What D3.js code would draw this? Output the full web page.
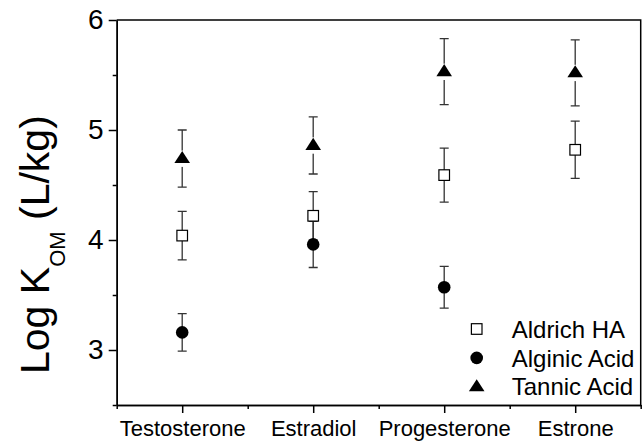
<!DOCTYPE html>
<html>
<head>
<meta charset="utf-8">
<script src="https://cdn.jsdelivr.net/npm/d3@7"></script>
<style>
  body { margin: 0; background: #fff; }
  svg { font-family: "Liberation Sans", Arial, sans-serif; }
</style>
</head>
<body>
<div id="chart"></div>
<script>
const categories = ['Testosterone', 'Estradiol', 'Progesterone', 'Estrone'];
const yMajorTicks = [3, 4, 5, 6];
const yMinorTicks = [2.5, 3.5, 4.5, 5.5];

const aldrichHA = [4.04, 4.22, 4.59, 4.82];
const aldrichHAErr = [0.22, 0.22, 0.245, 0.26];
const alginicAcid = [3.16, 3.96, 3.57, null];
const alginicAcidErr = [0.17, 0.21, 0.19, null];
const tannicAcid = [4.74, 4.86, 5.53, 5.52];
const tannicAcidErr = [0.26, 0.26, 0.30, 0.30];

const series = [
  { name: 'Aldrich HA', values: aldrichHA, errors: aldrichHAErr, symbol: 'square' },
  { name: 'Alginic Acid', values: alginicAcid, errors: alginicAcidErr, symbol: 'circle' },
  { name: 'Tannic Acid', values: tannicAcid, errors: tannicAcidErr, symbol: 'triangle' },
];

const width = 643;
const height = 447;
const dim = { left: 116.7, right: 640.7, top: 20, bottom: 405 };

const svg = d3.select('#chart').append('svg')
  .attr('width', width)
  .attr('height', height);

const x = d3.scaleLinear().domain([0, categories.length]).range([dim.left, dim.right]);
const y = d3.scaleLinear().domain([2.5, 6]).range([dim.bottom, dim.top]);

// frame (top and right)
svg.append('path')
  .attr('d', `M${dim.left},${dim.top}H${dim.right}V${dim.bottom}`)
  .attr('fill', 'none')
  .attr('stroke', '#000')
  .attr('stroke-width', 1.5);

// x axis
const xMajor = svg.append('g')
  .attr('transform', `translate(0,${dim.bottom})`)
  .call(d3.axisBottom(x)
    .tickValues(categories.map((c, i) => i + 0.5))
    .tickFormat((d, i) => categories[i])
    .tickSize(8).tickSizeOuter(0).tickPadding(7));
const xMinor = svg.append('g')
  .attr('transform', `translate(0,${dim.bottom})`)
  .call(d3.axisBottom(x)
    .tickValues(d3.range(categories.length + 1))
    .tickFormat('')
    .tickSize(4).tickSizeOuter(0));

// y axis
const yMajor = svg.append('g')
  .attr('transform', `translate(${dim.left},0)`)
  .call(d3.axisLeft(y)
    .tickValues(yMajorTicks)
    .tickFormat(d3.format('d'))
    .tickSize(8).tickSizeOuter(0).tickPadding(5));
const yMinor = svg.append('g')
  .attr('transform', `translate(${dim.left},0)`)
  .call(d3.axisLeft(y)
    .tickValues(yMinorTicks)
    .tickFormat('')
    .tickSize(4).tickSizeOuter(0));

svg.selectAll('.domain, .tick line').attr('stroke', '#000').attr('stroke-width', 1.5);
xMajor.selectAll('text').attr('font-size', 22).attr('fill', '#000').attr('font-family', null);
yMajor.selectAll('text').attr('font-size', 28).attr('fill', '#000').attr('font-family', null);

// y title
const title = svg.append('text')
  .attr('transform', 'translate(49.3,374) rotate(-90)')
  .attr('font-size', 41)
  .attr('fill', '#000');
title.append('tspan').text('Log K');
title.append('tspan').attr('font-size', 22).attr('dy', 15.7).text('OM');
title.append('tspan').attr('dy', -15.7).text(' (L/kg)');

// markers
function drawMarker(g, symbol, cx, cy) {
  if (symbol === 'square') {
    g.append('rect')
      .attr('x', cx - 5.3).attr('y', cy - 5.3)
      .attr('width', 10.6).attr('height', 10.6)
      .attr('fill', '#fff').attr('stroke', '#000').attr('stroke-width', 1.2);
  } else if (symbol === 'circle') {
    g.append('circle')
      .attr('cx', cx).attr('cy', cy).attr('r', 6.3)
      .attr('fill', '#000');
  } else {
    g.append('rect')
      .attr('x', cx - 8).attr('y', cy - 8)
      .attr('width', 16).attr('height', 16.3)
      .attr('fill', '#fff');
    g.append('path')
      .attr('d', `M${cx},${cy - 7.6}L${cx + 7.8},${cy + 4.5}L${cx - 7.8},${cy + 4.5}Z`)
      .attr('fill', '#000');
  }
}

const plot = svg.append('g');

// error bars
series.forEach(s => {
  s.values.forEach((v, i) => {
    if (v == null) return;
    const cx = x(i + 0.5);
    const y1 = y(v + s.errors[i]);
    const y2 = y(v - s.errors[i]);
    plot.append('path')
      .attr('d', `M${cx},${y1}V${y2}M${cx - 4.5},${y1}H${cx + 4.5}M${cx - 4.5},${y2}H${cx + 4.5}`)
      .attr('fill', 'none')
      .attr('stroke', '#333')
      .attr('stroke-width', 1.3);
  });
});

series.forEach(s => {
  const g = plot.append('g');
  s.values.forEach((v, i) => {
    if (v == null) return;
    drawMarker(g, s.symbol, x(i + 0.5), y(v));
  });
});

// legend
const legend = svg.append('g');
series.forEach((s, i) => {
  const ly = 329 + i * 28.9;
  drawMarker(legend, s.symbol, 476.7, ly);
  legend.append('text')
    .attr('x', 511.7).attr('y', ly)
    .attr('dy', '0.36em')
    .attr('font-size', 24)
    .attr('fill', '#000')
    .text(s.name);
});
</script>
</body>
</html>
